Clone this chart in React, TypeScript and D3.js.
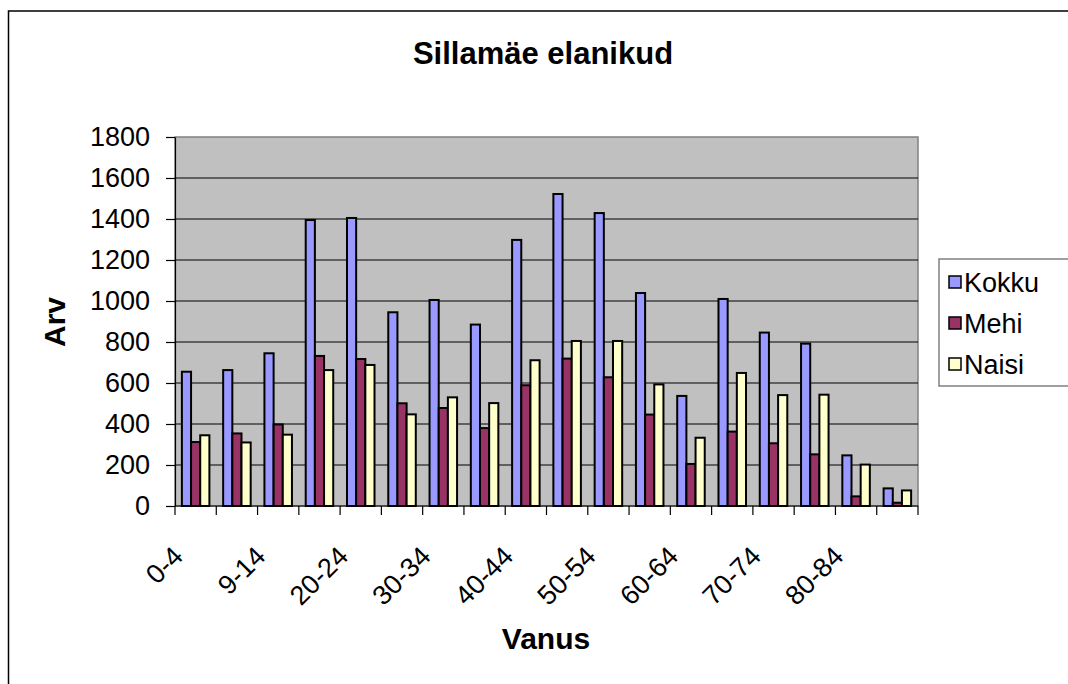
import { useEffect, useRef } from 'react';
import * as d3 from 'd3';

const AGE_GROUPS = [
  '0-4', '5-8', '9-14', '15-19', '20-24', '25-29', '30-34', '35-39', '40-44',
  '45-49', '50-54', '55-59', '60-64', '65-69', '70-74', '75-79', '80-84', '85+',
];
const KOKKU = [655, 663, 745, 1395, 1405, 945, 1005, 885, 1298, 1522, 1429, 1039, 537, 1010, 846, 792, 247, 86];
const MEHI = [312, 354, 398, 732, 717, 501, 478, 380, 589, 719, 628, 446, 205, 363, 306, 252, 47, 16];
const NAISI = [345, 310, 348, 663, 688, 447, 530, 502, 711, 805, 805, 593, 333, 649, 541, 543, 202, 76];
const SERIES = ['Kokku', 'Mehi', 'Naisi'];
const Y_TICKS = [0, 200, 400, 600, 800, 1000, 1200, 1400, 1600, 1800];

const COLORS: Record<string, string> = { Kokku: '#9999ff', Mehi: '#993366', Naisi: '#ffffcc' };
const FONT = '"Liberation Sans", Arial, sans-serif';
const W = 1068;
const H = 684;
const PLOT = { left: 175, right: 918, top: 137, bottom: 506 };

export default function App() {
  const svgRef = useRef<SVGSVGElement>(null);

  useEffect(() => {
    if (!svgRef.current) return;
    const svg = d3.select(svgRef.current);
    svg.selectAll('*').remove();

    const values: Record<string, number[]> = { Kokku: KOKKU, Mehi: MEHI, Naisi: NAISI };

    const x0 = d3.scaleBand<string>().domain(AGE_GROUPS).range([PLOT.left, PLOT.right]).padding(0);
    const x1 = d3.scaleBand<string>().domain(SERIES).range([0, x0.bandwidth()])
      .paddingInner(0).paddingOuter(0.75);
    const y = d3.scaleLinear().domain([0, 1800]).range([PLOT.bottom, PLOT.top]);

    // outer chart frame
    svg.append('rect')
      .attr('x', 8.5).attr('y', 11).attr('width', 1200).attr('height', 800)
      .attr('fill', '#fff').attr('stroke', '#000').attr('stroke-width', 1.5);

    // plot background
    svg.append('rect')
      .attr('x', PLOT.left).attr('y', PLOT.top)
      .attr('width', PLOT.right - PLOT.left).attr('height', PLOT.bottom - PLOT.top)
      .attr('fill', '#c0c0c0').attr('stroke', '#808080').attr('stroke-width', 1.5);

    // gridlines
    svg.append('g')
      .selectAll('line')
      .data(Y_TICKS.filter(t => t > 0 && t < 1800))
      .join('line')
      .attr('x1', PLOT.left).attr('x2', PLOT.right)
      .attr('y1', d => y(d)).attr('y2', d => y(d))
      .attr('stroke', '#000').attr('stroke-width', 1);

    // bars
    const groups = svg.append('g')
      .selectAll('g')
      .data(AGE_GROUPS)
      .join('g')
      .attr('transform', d => `translate(${x0(d)},0)`);

    groups.selectAll('rect')
      .data((_, i) => SERIES.map(s => ({ s, v: values[s][i] })))
      .join('rect')
      .attr('x', d => x1(d.s)!)
      .attr('y', d => y(d.v))
      .attr('width', x1.bandwidth())
      .attr('height', d => y(0) - y(d.v))
      .attr('fill', d => COLORS[d.s])
      .attr('stroke', '#000').attr('stroke-width', 2);

    // y axis
    const yAxis = svg.append('g')
      .attr('transform', `translate(${PLOT.left},0)`)
      .call(d3.axisLeft(y).tickValues(Y_TICKS).tickFormat(d3.format('d'))
        .tickSize(9).tickPadding(16).tickSizeOuter(0));
    yAxis.selectAll('text').attr('font-size', 27).attr('font-family', FONT).attr('fill', '#000');
    yAxis.selectAll('line, path').attr('stroke', '#000').attr('stroke-width', 1.2);

    // x axis
    const xAxis = svg.append('g')
      .attr('transform', `translate(0,${PLOT.bottom})`);
    xAxis.append('line')
      .attr('x1', PLOT.left).attr('x2', PLOT.right)
      .attr('stroke', '#000').attr('stroke-width', 1.2);
    xAxis.selectAll('line.tick')
      .data(d3.range(AGE_GROUPS.length + 1))
      .join('line')
      .attr('class', 'tick')
      .attr('x1', i => PLOT.left + i * x0.step()).attr('x2', i => PLOT.left + i * x0.step())
      .attr('y1', 0).attr('y2', 9)
      .attr('stroke', '#000').attr('stroke-width', 1.2);
    xAxis.selectAll('text')
      .data(AGE_GROUPS.filter((_, i) => i % 2 === 0))
      .join('text')
      .attr('transform', d => `translate(${x0(d)! + x0.bandwidth() / 2 - 11},52) rotate(-45)`)
      .attr('text-anchor', 'end')
      .attr('font-size', 27).attr('font-family', FONT)
      .text(d => d);

    // titles
    svg.append('text')
      .attr('x', 543).attr('y', 64).attr('text-anchor', 'middle')
      .attr('font-size', 31).attr('font-weight', 'bold').attr('font-family', FONT)
      .text('Sillamäe elanikud');
    svg.append('text')
      .attr('x', 546).attr('y', 649).attr('text-anchor', 'middle')
      .attr('font-size', 30).attr('font-weight', 'bold').attr('font-family', FONT)
      .text('Vanus');
    svg.append('text')
      .attr('transform', 'translate(65,322) rotate(-90)')
      .attr('text-anchor', 'middle')
      .attr('font-size', 30).attr('font-weight', 'bold').attr('font-family', FONT)
      .text('Arv');

    // legend
    const legend = svg.append('g');
    legend.append('rect')
      .attr('x', 939).attr('y', 259).attr('width', 200).attr('height', 127)
      .attr('fill', '#fff').attr('stroke', '#808080').attr('stroke-width', 1.5);
    const items = legend.selectAll('g')
      .data(SERIES)
      .join('g')
      .attr('transform', (_, i) => `translate(949,${282 + i * 41})`);
    items.append('rect')
      .attr('x', 0).attr('y', -6).attr('width', 12).attr('height', 12)
      .attr('fill', d => COLORS[d]).attr('stroke', '#000').attr('stroke-width', 1.5);
    items.append('text')
      .attr('x', 15).attr('y', 10)
      .attr('font-size', 27).attr('font-family', FONT)
      .text(d => d);
  }, []);

  return (
    <svg
      ref={svgRef}
      width={W}
      height={H}
      style={{ position: 'absolute', left: 0, top: 0, background: '#fff' }}
    />
  );
}
